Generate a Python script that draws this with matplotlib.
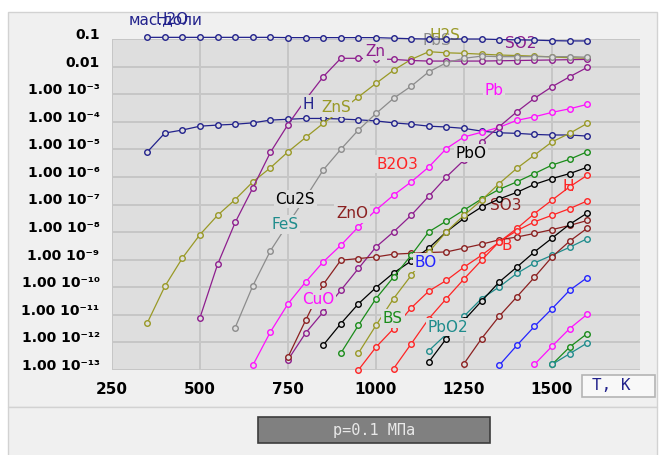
#!/usr/bin/env python3

import matplotlib
matplotlib.use('Agg')
import matplotlib.pyplot as plt
from matplotlib.patches import Rectangle
from matplotlib.transforms import ScaledTranslation
import numpy as np

# 每條曲線: 起始溫度 (K), 每 50 K 一點, 值為 log10(質量分率)
T_step = 50

mas_start, mas_lg = 350, [-0.94, -0.94, -0.94, -0.94, -0.94, -0.94, -0.94, -0.94, -0.95, -0.95,
                          -0.95, -0.95, -0.95, -0.95, -0.97, -0.99, -1.0, -1.0, -1.0, -1.0,
                          -1.02, -1.03, -1.04, -1.06, -1.07, -1.07]
h_start, h_lg = 350, [-5.10, -4.41, -4.30, -4.16, -4.12, -4.09, -4.04, -3.94, -3.91, -3.88,
                      -3.88, -3.90, -3.93, -3.97, -4.04, -4.09, -4.16, -4.19, -4.24, -4.34,
                      -4.40, -4.42, -4.46, -4.48, -4.48, -4.52]
h2s_start, h2s_lg = 350, [-11.3, -9.97, -8.94, -8.09, -7.39, -6.82, -6.18, -5.67, -5.09, -4.57,
                          -4.06, -3.6, -3.1, -2.61, -2.13, -1.74, -1.46, -1.50, -1.52, -1.55,
                          -1.58, -1.60, -1.62, -1.65, -1.68, -1.70]
zn_start, zn_lg = 500, [-11.1, -9.17, -7.65, -6.4, -5.11, -4.10, -3.2, -2.37, -1.70, -1.70,
                        -1.72, -1.74, -1.78, -1.80, -1.80, -1.80, -1.80, -1.79, -1.78, -1.77,
                        -1.76, -1.75, -1.74]
pbs_start, pbs_lg = 600, [-11.46, -9.95, -8.68, -7.7, -6.75, -5.75, -5.0, -4.30, -3.70, -3.15,
                          -2.71, -2.19, -1.86, -1.70, -1.62, -1.64, -1.64, -1.64, -1.64, -1.64,
                          -1.66]
pb_start, pb_lg = 650, [-12.83, -11.62, -10.6, -9.81, -9.08, -8.48, -7.81, -7.2, -6.66, -6.18,
                        -5.64, -4.97, -4.55, -4.38, -4.2, -3.95, -3.82, -3.66, -3.53, -3.37]
so2_start, so2_lg = 750, [-12.63, -11.66, -10.9, -10.11, -9.32, -8.54, -7.99, -7.39, -6.70, -6.0,
                          -5.39, -4.73, -4.18, -3.64, -3.15, -2.73, -2.37, -2.03]
zno_start, zno_lg = 750, [-12.53, -11.2, -9.9, -9.02, -8.96, -8.9, -8.8, -8.77, -8.74, -8.72,
                          -8.58, -8.44, -8.28, -8.18, -8.05, -7.91, -7.76, -7.58]
cu2s_start, cu2s_lg = 850, [-12.1, -11.32, -10.6, -10.01, -9.48, -9.05, -8.58, -7.99, -7.5, -7.09,
                            -6.80, -6.56, -6.27, -6.06, -5.88, -5.65]
bs_start, bs_lg = 900, [-12.39, -11.38, -10.41, -9.63, -8.84, -7.99, -7.6, -7.2, -6.8, -6.45,
                        -6.18, -5.88, -5.57, -5.36, -5.09]
zns_start, zns_lg = 950, [-12.39, -11.38, -10.41, -9.57, -8.72, -7.99, -7.39, -6.84, -6.24, -5.69,
                          -5.21, -4.73, -4.42, -4.06]
b2o3_start, b2o3_lg = 950, [-13.0, -12.17, -11.5, -10.75, -10.14, -9.75, -9.27, -8.84, -8.36, -7.87,
                            -7.33, -6.84, -6.36, -5.94]
b_start, b_lg = 1050, [-12.95, -12.05, -11.14, -10.41, -9.70, -9.02, -8.35, -7.95, -7.63, -7.39,
                       -7.15, -6.87]
pbo2_start, pbo2_lg = 1150, [-12.3, -11.7, -11.05, -10.41, -9.99, -9.5, -9.12, -8.84, -8.55, -8.24]
pbo_start, pbo_lg = 1150, [-12.71, -11.86, -11.2, -10.5, -9.81, -9.27, -8.72, -8.22, -7.72, -7.31]
so3_start, so3_lg = 1250, [-12.77, -11.86, -11.05, -10.35, -9.64, -8.9, -8.33, -7.86]
bo_start, bo_lg = 1350, [-12.83, -12.11, -11.42, -10.78, -10.11, -9.65]
cuo_start, cuo_lg = 1450, [-12.8, -12.14, -11.5, -10.98]
fes_start, fes_lg = 1500, [-12.8, -12.17, -11.68]
feo_start, feo_lg = 1500, [-12.8, -12.41, -12.02]

NAVY, PURPLE, OLIVE, GRAY = '#22228c', '#8e1e8e', '#999926', '#8c8c8c'
MAGENTA, BLACK, BROWN, GREEN = '#ff10ff', '#000000', '#8b2020', '#1a8c1a'
RED, TEAL, BLUE = '#ff2424', '#1f8c8c', '#2424ff'

series = [
    (mas_start, mas_lg, NAVY), (h_start, h_lg, NAVY), (h2s_start, h2s_lg, OLIVE),
    (zn_start, zn_lg, PURPLE), (pbs_start, pbs_lg, GRAY), (pb_start, pb_lg, MAGENTA),
    (so2_start, so2_lg, PURPLE), (zno_start, zno_lg, BROWN), (cu2s_start, cu2s_lg, BLACK),
    (bs_start, bs_lg, GREEN), (zns_start, zns_lg, OLIVE), (b2o3_start, b2o3_lg, RED),
    (b_start, b_lg, RED), (pbo2_start, pbo2_lg, TEAL), (pbo_start, pbo_lg, BLACK),
    (so3_start, so3_lg, BROWN), (bo_start, bo_lg, BLUE), (cuo_start, cuo_lg, MAGENTA),
    (fes_start, fes_lg, GREEN), (feo_start, feo_lg, TEAL),
]

# 曲線標籤: 文字, T, log10 值, 顏色, 是否遮住底下的線
labels = [
    ('мас.доли', 403, -0.31, NAVY, False), ('H2O', 421, -0.31, NAVY, False),
    ('PbS', 1173, -1.07, GRAY, False), ('H2S', 1196, -0.89, OLIVE, False),
    ('SO2', 1412, -1.15, PURPLE, False), ('Zn', 997, -1.44, PURPLE, True),
    ('Pb', 1335, -2.85, MAGENTA, True), ('H', 807, -3.36, NAVY, True),
    ('ZnS', 886, -3.5, OLIVE, True), ('PbO', 1270, -5.14, BLACK, True),
    ('B2O3', 1060, -5.54, RED, True), ('Cu2S', 770, -6.81, BLACK, True),
    ('FeS', 741, -7.72, TEAL, True), ('ZnO', 932, -7.32, BROWN, True),
    ('CuO', 835, -10.44, MAGENTA, True), ('BO', 1142, -9.09, BLUE, True),
    ('SO3', 1369, -7.03, BROWN, False), ('H', 1545, -6.34, RED, False),
    ('B', 1372, -8.48, RED, False), ('BS', 1048, -11.13, GREEN, True),
    ('PbO2', 1205, -11.45, TEAL, True),
]

x_ticks = [250, 500, 750, 1000, 1250, 1500]
y_exps = list(range(-13, 0))
y_ticklabels = ['1.00 10⁻¹³', '1.00 10⁻¹²', '1.00 10⁻¹¹', '1.00 10⁻¹⁰', '1.00 10⁻⁹',
                '1.00 10⁻⁸', '1.00 10⁻⁷', '1.00 10⁻⁶', '1.00 10⁻⁵', '1.00 10⁻⁴',
                '1.00 10⁻³', '0.01', '0.1']

W, H = 661, 455
BG = '#dedede'
tick_font = dict(family=['Liberation Sans Narrow', 'DejaVu Sans'], weight='bold', size=11)
ytick_font = dict(tick_font, size=10)

fig = plt.figure(figsize=(W / 100, H / 100), dpi=100, facecolor='white')


def px_rect(x0, y0, x1, y1, **kw):
    r = Rectangle((x0 / W, 1 - y1 / H), (x1 - x0) / W, (y1 - y0) / H,
                  transform=fig.transFigure, **kw)
    fig.patches.append(r)
    return r


# 外框
px_rect(8, 12, 657, 407, facecolor='#f0f0f0', edgecolor='#d2d2d2', lw=1, zorder=-2)
px_rect(8, 407, 657, 456, facecolor='#f0f0f0', edgecolor='#d2d2d2', lw=1, zorder=-2)

ax = fig.add_axes([112 / W, 1 - 370 / H, 528 / W, 331 / H])
ax.set_facecolor(BG)
ax.set_yscale('log')
ax.set_xlim(250, 1750)
ax.set_ylim(1e-13, 0.1)
ax.minorticks_off()
for s in ax.spines.values():
    s.set_visible(False)
ax.grid(True, color='#c6c6c6', lw=1.4)
ax.set_axisbelow(True)

# 畫曲線
for start, lg, c in series:
    T = start + T_step * np.arange(len(lg))
    ax.plot(T, 10.0 ** np.array(lg), '-o', color=c, lw=0.9, ms=4.0, mfc=BG, mew=1.0,
            clip_on=False, zorder=2)

for txt, t, lg, c, mask in labels:
    bb = dict(fc=BG, ec='none', pad=1.2) if mask else None
    ax.text(t, 10.0 ** lg, txt, color=c, fontsize=11, ha='center', va='center',
            bbox=bb, zorder=4 if mask else 1, clip_on=False)

# 座標刻度
ax.set_xticks(x_ticks)
ax.set_xticklabels([str(v) for v in x_ticks], fontdict=tick_font)
ax.set_yticks([10.0 ** e for e in y_exps])
ax.set_yticklabels(y_ticklabels, fontdict=ytick_font)
ax.tick_params(length=0)
ax.tick_params(axis='x', pad=9)
ax.tick_params(axis='y', pad=9)
shift = ScaledTranslation(0, 4 / 72, fig.dpi_scale_trans)
for lab in ax.get_yticklabels():
    lab.set_transform(lab.get_transform() + shift)

# T, K 方框與壓力條
px_rect(582, 375, 655, 397, facecolor='#f8f8f8', edgecolor='#b4b4b4', lw=1.2, zorder=1)
fig.text(592 / W, 1 - 386 / H, 'T, K', color=NAVY, fontsize=11.5,
         family='DejaVu Sans Mono', ha='left', va='center')
px_rect(258, 417, 490, 443, facecolor='#808080', edgecolor='#3c3c3c', lw=1.2, zorder=1)
fig.text(374 / W, 1 - 430 / H, 'p=0.1 МПа', color='#e8e8e8', fontsize=11,
         family='DejaVu Sans Mono', ha='center', va='center')

fig.savefig('out.png', dpi=100, facecolor=fig.get_facecolor())
